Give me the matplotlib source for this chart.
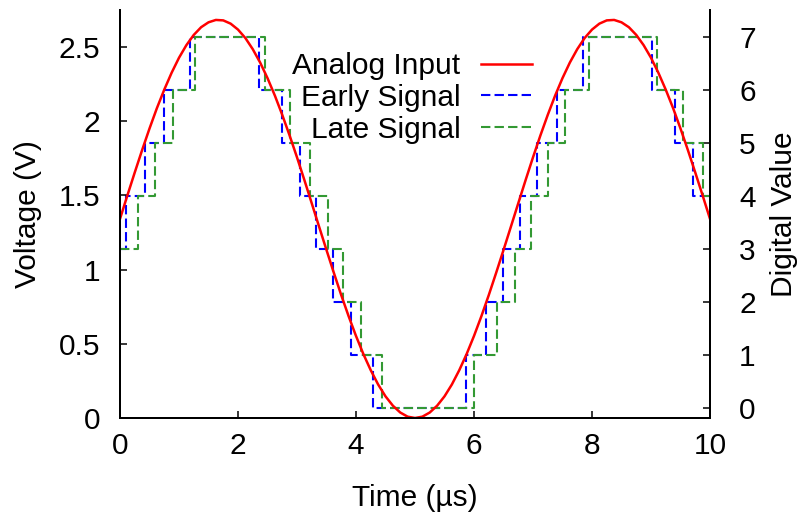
import matplotlib
matplotlib.use("Agg")
import matplotlib.pyplot as plt

plt.rcParams["font.family"] = ["Liberation Sans", "DejaVu Sans"]

# analog input, every 0.125 us
time_us = [0.0, 0.125, 0.25, 0.375, 0.5, 0.625, 0.75, 0.875,
           1.0, 1.125, 1.25, 1.375, 1.5, 1.625, 1.75, 1.875,
           2.0, 2.125, 2.25, 2.375, 2.5, 2.625, 2.75, 2.875,
           3.0, 3.125, 3.25, 3.375, 3.5, 3.625, 3.75, 3.875,
           4.0, 4.125, 4.25, 4.375, 4.5, 4.625, 4.75, 4.875,
           5.0, 5.125, 5.25, 5.375, 5.5, 5.625, 5.75, 5.875,
           6.0, 6.125, 6.25, 6.375, 6.5, 6.625, 6.75, 6.875,
           7.0, 7.125, 7.25, 7.375, 7.5, 7.625, 7.75, 7.875,
           8.0, 8.125, 8.25, 8.375, 8.5, 8.625, 8.75, 8.875,
           9.0, 9.125, 9.25, 9.375, 9.5, 9.625, 9.75, 9.875, 10.0]
voltage = [1.342, 1.500, 1.655, 1.806, 1.951, 2.088, 2.213, 2.327,
           2.428, 2.513, 2.582, 2.634, 2.667, 2.683, 2.680, 2.658,
           2.618, 2.561, 2.486, 2.396, 2.291, 2.173, 2.043, 1.904,
           1.757, 1.604, 1.447, 1.289, 1.132, 0.978, 0.828, 0.686,
           0.553, 0.431, 0.322, 0.226, 0.146, 0.083, 0.037, 0.009,
           0.000, 0.009, 0.037, 0.083, 0.146, 0.226, 0.322, 0.431,
           0.553, 0.686, 0.828, 0.978, 1.132, 1.289, 1.447, 1.604,
           1.757, 1.904, 2.043, 2.173, 2.291, 2.396, 2.486, 2.561,
           2.618, 2.658, 2.680, 2.683, 2.667, 2.634, 2.582, 2.513,
           2.428, 2.327, 2.213, 2.088, 1.951, 1.806, 1.655, 1.500, 1.342]

# digital outputs: time of each change and the value held from then on
early_t = [0.0, 0.11, 0.42, 0.75, 1.19, 2.35, 2.75, 3.05, 3.33, 3.61, 3.91, 4.29,
           5.86, 6.21, 6.49, 6.78, 7.07, 7.41, 7.85, 9.02, 9.40, 9.71, 10.0]
early_val = [3, 4, 5, 6, 7, 6, 5, 4, 3, 2, 1, 0,
             1, 2, 3, 4, 5, 6, 7, 6, 5, 4, 4]
late_t = [0.0, 0.30, 0.59, 0.90, 1.27, 2.45, 2.88, 3.22, 3.52, 3.78, 4.09, 4.44,
          6.00, 6.39, 6.69, 6.97, 7.25, 7.55, 7.95, 9.11, 9.55, 9.88, 10.0]
late_val = [3, 4, 5, 6, 7, 6, 5, 4, 3, 2, 1, 0,
            1, 2, 3, 4, 5, 6, 7, 6, 5, 4, 4]

x_ticks = [0, 2, 4, 6, 8, 10]
v_ticks = [0, 0.5, 1, 1.5, 2, 2.5]
v_tick_labels = ["0", "0.5", "1", "1.5", "2", "2.5"]
d_ticks = [0, 1, 2, 3, 4, 5, 6, 7]

FS = 21.5
RED = "#ff0000"
BLUE = "#0000ff"
GREEN = "#339933"

fig = plt.figure(figsize=(7.98, 5.15), dpi=100)
ax = fig.add_axes([120 / 798, 1 - 418 / 515, 590 / 798, 408 / 515])
ax2 = ax.twinx()

# keep the red curve above the steps
ax.set_zorder(ax2.get_zorder() + 1)
ax.patch.set_visible(False)

dash = (0, (4.5, 2.0))
early_line, = ax2.step(early_t, early_val, where="post", color=BLUE,
                       lw=1.5, linestyle=dash, label="Early Signal")
late_line, = ax2.step(late_t, late_val, where="post", color=GREEN,
                      lw=1.5, linestyle=dash, label="Late Signal")
analog_line, = ax.plot(time_us, voltage, color=RED, lw=1.8, label="Analog Input")

ax.set_xlim(0, 10)
ax.set_ylim(0, 2.75)
ax2.set_ylim(-0.1875, 7.5)

ax.set_xticks(x_ticks)
ax.set_yticks(v_ticks)
ax.set_yticklabels(v_tick_labels)
ax2.set_yticks(d_ticks)

for a in (ax, ax2):
    a.spines["top"].set_visible(False)
    for s in a.spines.values():
        s.set_linewidth(1.4)

ax.tick_params(axis="x", direction="in", length=5, width=1.1,
               labelsize=FS, pad=10, top=False)
ax.tick_params(axis="y", direction="in", length=5, width=1.1,
               labelsize=FS, pad=14, right=False)
ax2.tick_params(axis="y", direction="in", length=5, width=1.1,
                labelsize=FS, pad=21)

ax.set_xlabel("Time (µs)", fontsize=FS, labelpad=17)
ax.set_ylabel("Voltage (V)", fontsize=FS, labelpad=12)
ax2.set_ylabel("Digital Value", fontsize=FS, labelpad=10)

ax.legend(handles=[analog_line, early_line, late_line],
          loc="upper right", bbox_to_anchor=(532 / 798, 1 - 52 / 515),
          bbox_transform=fig.transFigure, frameon=False, markerfirst=False,
          fontsize=FS, borderpad=0, borderaxespad=0, labelspacing=0.13,
          handlelength=1.7, handletextpad=0.7)

fig.savefig("out.png", dpi=100)
